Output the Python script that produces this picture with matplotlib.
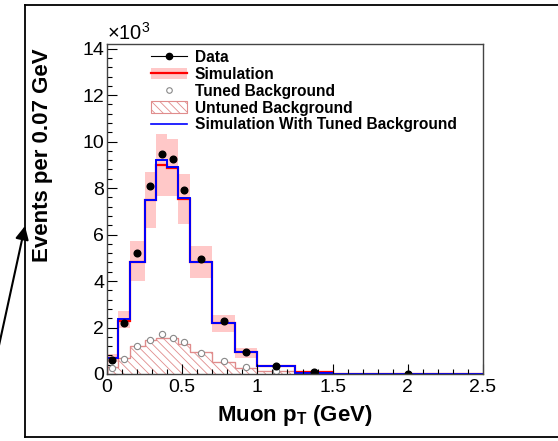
import numpy as np
import matplotlib
matplotlib.use("Agg")
from matplotlib import pyplot as plt
from matplotlib.lines import Line2D
from matplotlib.patches import Patch, FancyArrowPatch
from matplotlib.ticker import MultipleLocator, FuncFormatter

plt.rcParams['font.family'] = ['Liberation Sans', 'DejaVu Sans']
plt.rcParams['mathtext.fontset'] = 'custom'
plt.rcParams['mathtext.rm'] = 'Liberation Sans'
plt.rcParams['mathtext.bf'] = 'Liberation Sans:bold'
plt.rcParams['hatch.linewidth'] = 0.6

# bin edges in GeV, values in units of 10^3 events
edges = [0, 0.07, 0.15, 0.25, 0.325, 0.4, 0.475, 0.55, 0.7, 0.85, 1.0, 1.25, 1.5, 2.5]
centers = [0.035, 0.11, 0.2, 0.2875, 0.3625, 0.4375, 0.5125, 0.625, 0.775, 0.925, 1.125, 1.375, 2.0]

data = [0.6, 2.21, 5.21, 8.07, 9.46, 9.26, 7.9, 4.96, 2.26, 0.93, 0.34, 0.08, 0.005]
sim = [0.67, 2.3, 4.8, 7.48, 9.0, 8.86, 7.55, 4.82, 2.2, 0.95, 0.33, 0.08, 0.01]
sim_hi = [0.85, 2.71, 5.71, 8.71, 10.33, 10.1, 8.6, 5.5, 2.53, 1.1, 0.38, 0.1, 0.012]
sim_lo = [0.5, 1.96, 4.0, 6.29, 7.64, 7.64, 6.47, 4.14, 1.79, 0.67, 0.28, 0.06, 0.008]
tuned_bkg = [0.24, 0.64, 1.19, 1.46, 1.74, 1.53, 1.36, 0.9, 0.54, 0.29, 0.14, 0.05, 0.005]
untuned_bkg = [0.3, 0.67, 1.21, 1.47, 1.57, 1.57, 1.29, 0.93, 0.5, 0.27, 0.12, 0.04, 0.0]
sim_tuned = [0.71, 2.36, 4.83, 7.5, 9.19, 8.9, 7.57, 4.83, 2.19, 0.96, 0.33, 0.06, 0.01]

W, H = 558, 441
fig = plt.figure(figsize=(W / 100, H / 100), dpi=100)
ax = fig.add_axes([107 / W, 1 - 374 / H, (483 - 107) / W, (374 - 44) / H])

pink = '#ffc8c8'
hatch_col = '#e08c8c'

# untuned background, hatched
ax.stairs(untuned_bkg, edges, fill=True, facecolor='none', edgecolor=hatch_col,
          hatch='\\\\\\\\', linewidth=0.8)
ax.stairs(untuned_bkg, edges, color=hatch_col, linewidth=0.9)
# simulation uncertainty band
ax.stairs(sim_hi, edges, baseline=sim_lo, fill=True, color=pink, linewidth=0)
ax.stairs(sim, edges, color='red', linewidth=1.6)
ax.stairs(sim_tuned, edges, color='blue', linewidth=1.4)
ax.plot(centers, tuned_bkg, 'o', ms=4.5, mfc='white', mec='#888888', mew=0.8)
ax.plot(centers, data, 'o', ms=4.8, color='black')

ax.set_xlim(0, 2.5)
ax.set_ylim(0, 14.2)
ax.xaxis.set_major_locator(MultipleLocator(0.5))
ax.xaxis.set_minor_locator(MultipleLocator(0.1))
ax.yaxis.set_major_locator(MultipleLocator(2))
ax.yaxis.set_minor_locator(MultipleLocator(0.4))
ax.xaxis.set_major_formatter(FuncFormatter(lambda v, p: f'{v:g}'))
ax.tick_params(which='both', direction='in', top=False, right=False, labelsize=14)
ax.tick_params(axis='y', pad=2)
ax.tick_params(which='major', length=7, width=0.8)
ax.tick_params(which='minor', length=3.5, width=0.8)
for s in ax.spines.values():
    s.set_linewidth(1.0)
    s.set_color('#444444')

ax.text(0.0, 1.0, r'$\times$10$^{3}$', transform=ax.transAxes, fontsize=14.5,
        ha='left', va='bottom')
ax.set_xlabel(r'Muon p$_{\mathbf{T}}$ (GeV)', fontsize=16, fontweight='bold', labelpad=5)
fig.text(43 / W, 1 - 155 / H, 'Events per 0.07 GeV', rotation=90, fontsize=16,
         fontweight='bold', ha='center', va='center')

handles = [
    Line2D([], [], color='black', marker='o', ms=4.5, lw=0.8),
    (Patch(facecolor=pink, edgecolor='none'), Line2D([], [], color='red', lw=1.6)),
    Line2D([], [], ls='none', marker='o', ms=4, mfc='white', mec='#888888', mew=0.8),
    Patch(facecolor='white', edgecolor=hatch_col, hatch='\\\\\\\\', lw=0.8),
    Line2D([], [], color='blue', lw=1.2),
]
labels = ['Data', 'Simulation', 'Tuned Background', 'Untuned Background',
          'Simulation With Tuned Background']
leg = ax.legend(handles, labels, loc='upper left', bbox_to_anchor=(151 / W, 1 - 50 / H),
                bbox_transform=fig.transFigure, frameon=False, borderpad=0,
                borderaxespad=0, handlelength=2.3, handleheight=0.75,
                handletextpad=0.5, labelspacing=0.12, prop={'weight': 'bold', 'size': 11.2})

# outer frame and arrow
for xs, ys in [([25, 25], [5, 437]), ([25, W], [5, 5]), ([25, W], [437, 437])]:
    fig.add_artist(Line2D([x / W for x in xs], [1 - y / H for y in ys],
                          transform=fig.transFigure, color='black', lw=1.3))
fig.add_artist(FancyArrowPatch((-2 / W, 1 - 350 / H), (25 / W, 1 - 226 / H),
                               transform=fig.transFigure, arrowstyle='-|>,head_length=8,head_width=4',
                               color='black', lw=1.5, shrinkA=0, shrinkB=0))

fig.savefig('out.png', dpi=100)
